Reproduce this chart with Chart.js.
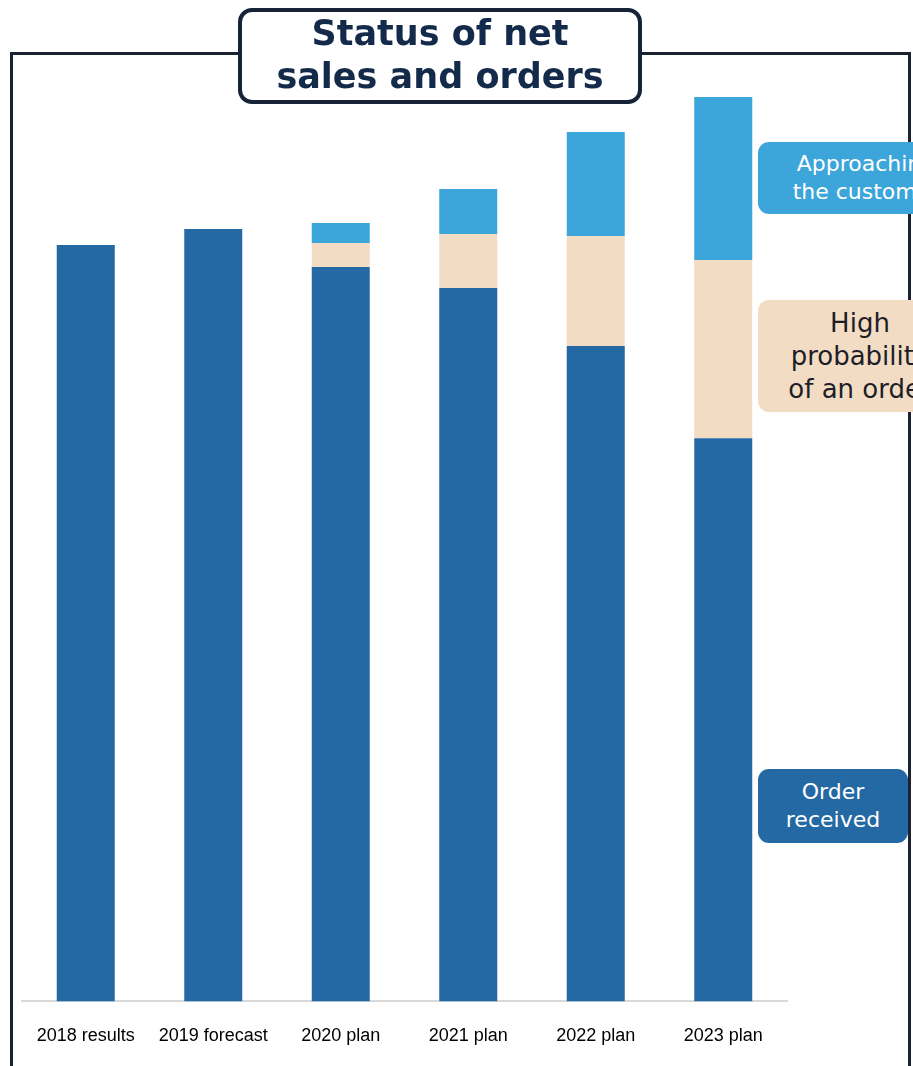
<!DOCTYPE html>
<html>
<head>
<meta charset="utf-8">
<script src="https://cdn.jsdelivr.net/npm/chart.js@4"></script>
<style>
  html, body { margin: 0; padding: 0; background: #fff; }
  body { width: 913px; height: 1066px; position: relative; overflow: hidden; }
  #frame { position: absolute; left: 10px; top: 52px; width: 901px; height: 1100px; border: 3px solid #1b2331; box-sizing: border-box; }
  #c { position: absolute; left: 0; top: 0; }
  .title { position: absolute; left: 238px; top: 8px; width: 404px; height: 96px; box-sizing: border-box; border: 4px solid #172338; border-radius: 14px; background: #fff; color: #142a4a; font-family: "DejaVu Sans", sans-serif; font-weight: bold; font-size: 35px; line-height: 43px; text-align: center; padding-top: 0px; }
  .lab { position: absolute; box-sizing: border-box; border-radius: 11px; font-family: "DejaVu Sans", sans-serif; text-align: center; white-space: nowrap; display: flex; flex-direction: column; justify-content: center; }
  #l1 { left: 758px; top: 142px; width: 212px; height: 72px; background: #3ca5d9; color: #fff; font-size: 22px; line-height: 28px; padding-left: 4px; }
  #l2 { left: 758px; top: 300px; width: 204px; height: 112px; background: #f2ddc4; color: #1e1e28; font-size: 26px; line-height: 33px; }
  #l3 { left: 758px; top: 769px; width: 150px; height: 74px; background: #2469a4; color: #fff; font-size: 22px; line-height: 28px; }
</style>
</head>
<body>
<div id="frame"></div>
<canvas id="c" width="913" height="1090"></canvas>
<div class="lab" id="l1"><div>Approaching</div><div>the customer</div></div>
<div class="lab" id="l2"><div>High</div><div>probability</div><div>of an order</div></div>
<div class="lab" id="l3"><div>Order</div><div>received</div></div>
<div class="title">Status of net<br>sales and orders</div>
<script>
const categories = ["2018 results", "2019 forecast", "2020 plan", "2021 plan", "2022 plan", "2023 plan"];
const orderReceived = [75.6, 77.2, 73.4, 71.3, 65.5, 56.3];
const highProbability = [0, 0, 2.4, 5.4, 11.0, 17.8];
const approaching = [0, 0, 2.0, 4.5, 10.4, 16.3];

new Chart(document.getElementById('c'), {
  type: 'bar',
  data: {
    labels: categories,
    datasets: [
      { label: 'Order received', data: orderReceived, backgroundColor: '#2469a4', borderWidth: 0 },
      { label: 'High probability of an order', data: highProbability, backgroundColor: '#f2ddc4', borderWidth: 0 },
      { label: 'Approaching the customer', data: approaching, backgroundColor: '#3ca5d9', borderWidth: 0 }
    ]
  },
  options: {
    responsive: false,
    maintainAspectRatio: false,
    animation: false,
    layout: { padding: { left: 22, right: 126, top: 81, bottom: 19 } },
    datasets: { bar: { barPercentage: 1, categoryPercentage: 0.455 } },
    plugins: { legend: { display: false }, tooltip: { enabled: false }, title: { display: false } },
    scales: {
      x: {
        stacked: true,
        grid: { display: false, drawTicks: false },
        border: { display: true, color: '#d9d9d9', width: 2 },
        ticks: { color: '#000', font: { family: '"Liberation Sans", Arial, sans-serif', size: 18 }, padding: 24, maxRotation: 0, autoSkip: false }
      },
      y: {
        stacked: true,
        display: false,
        min: 0,
        max: 92
      }
    }
  }
});
</script>
</body>
</html>
